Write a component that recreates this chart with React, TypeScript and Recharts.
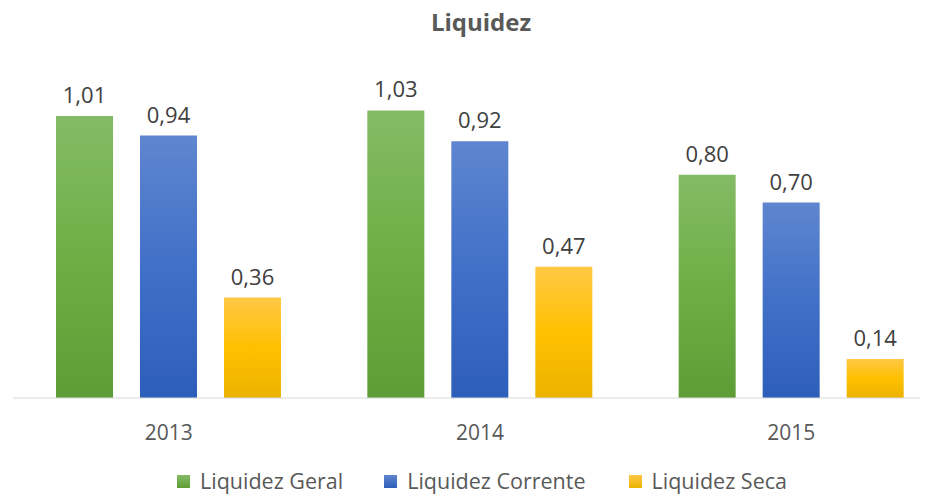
import React from 'react';
import { BarChart, Bar, XAxis, YAxis, Legend, LabelList, Customized } from 'recharts';

const categories = ['2013', '2014', '2015'];
const liquidezGeral = [1.01, 1.03, 0.8];
const liquidezCorrente = [0.94, 0.92, 0.7];
const liquidezSeca = [0.36, 0.47, 0.14];
const seriesNames = ['Liquidez Geral', 'Liquidez Corrente', 'Liquidez Seca'];
const title = 'Liquidez';

const data = categories.map((c, i) => ({
  year: c,
  geral: liquidezGeral[i],
  corrente: liquidezCorrente[i],
  seca: liquidezSeca[i],
}));

const FONT = '"Open Sans", Lato, sans-serif';
const fmt = (v: any) => Number(v).toFixed(2).replace('.', ',');

const legendItems = [
  { name: seriesNames[0], c1: '#84bb66', c2: '#5e9d35', gap: 41 },
  { name: seriesNames[1], c1: '#5f86cf', c2: '#2d5eb9', gap: 43 },
  { name: seriesNames[2], c1: '#ffc845', c2: '#ebb300', gap: 0 },
];

const LegendContent = () => (
  <div style={{ display: 'flex', justifyContent: 'flex-start', alignItems: 'center', paddingLeft: 169, fontFamily: FONT, fontSize: 21.5, color: '#595959', lineHeight: '30px' }}>
    {legendItems.map((it, i) => (
      <div key={i} style={{ display: 'flex', alignItems: 'center', marginRight: it.gap }}>
        <div style={{ width: 13, height: 13, background: `linear-gradient(${it.c1}, ${it.c2})`, marginRight: 10 }} />
        <span>{it.name}</span>
      </div>
    ))}
  </div>
);

const labelStyle = { fontFamily: FONT, fontSize: 22, fill: '#404040' };

export default function App() {
  return (
    <div style={{ width: 920, height: 494, overflow: 'hidden', position: 'relative', marginTop: -8 }}>
      <BarChart
        width={944}
        height={494}
        data={data}
        margin={{ top: 63, right: 5, bottom: 56, left: 5 }}
        barCategoryGap={43}
        barGap={27}
      >
        <defs>
          <linearGradient id="gGreen" x1="0" y1="0" x2="0" y2="1">
            <stop offset="0%" stopColor="#84bb66" />
            <stop offset="50%" stopColor="#6eae45" />
            <stop offset="100%" stopColor="#5e9d35" />
          </linearGradient>
          <linearGradient id="gBlue" x1="0" y1="0" x2="0" y2="1">
            <stop offset="0%" stopColor="#5f86cf" />
            <stop offset="50%" stopColor="#4170c8" />
            <stop offset="100%" stopColor="#2d5eb9" />
          </linearGradient>
          <linearGradient id="gYellow" x1="0" y1="0" x2="0" y2="1">
            <stop offset="0%" stopColor="#ffc845" />
            <stop offset="50%" stopColor="#ffc000" />
            <stop offset="100%" stopColor="#ebb300" />
          </linearGradient>
        </defs>
        <Customized
          component={() => (
            <text x={473} y={31} textAnchor="middle" fontFamily={FONT} fontWeight={700} fontSize={24} fill="#595959">
              {title}
            </text>
          )}
        />
        <XAxis
          dataKey="year"
          height={40}
          tickLine={false}
          tickSize={0}
          tickMargin={27}
          axisLine={{ stroke: '#d9d9d9', strokeWidth: 1 }}
          tick={{ fontFamily: FONT, fontSize: 21, fill: '#595959' }}
        />
        <YAxis hide domain={[0, 1.2]} />
        <Legend
          verticalAlign="middle"
          layout="horizontal"
          content={<LegendContent />}
          wrapperStyle={{ top: 466, left: 0, width: 920 }}
        />
        <Bar dataKey="geral" name={seriesNames[0]} fill="url(#gGreen)" isAnimationActive={false}>
          <LabelList dataKey="geral" position="top" offset={13} formatter={fmt} style={labelStyle} />
        </Bar>
        <Bar dataKey="corrente" name={seriesNames[1]} fill="url(#gBlue)" isAnimationActive={false}>
          <LabelList dataKey="corrente" position="top" offset={13} formatter={fmt} style={labelStyle} />
        </Bar>
        <Bar dataKey="seca" name={seriesNames[2]} fill="url(#gYellow)" isAnimationActive={false}>
          <LabelList dataKey="seca" position="top" offset={13} formatter={fmt} style={labelStyle} />
        </Bar>
      </BarChart>
    </div>
  );
}
